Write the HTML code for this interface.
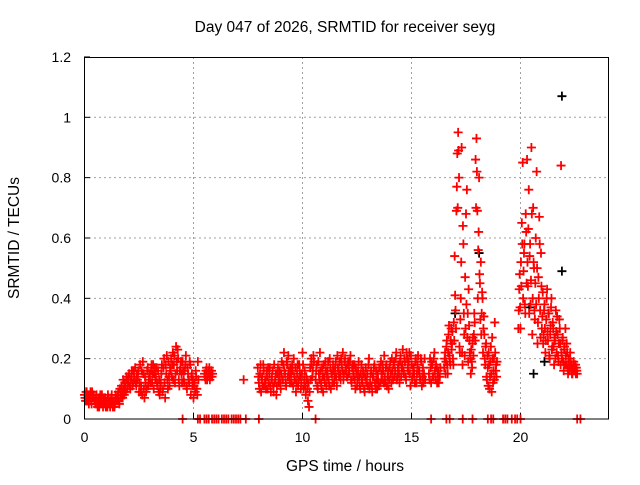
<!DOCTYPE html>
<html><head><meta charset="utf-8"><style>
body{margin:0;background:#fff;font-family:"Liberation Sans",sans-serif}
svg text{font-family:"Liberation Sans",sans-serif;font-size:14px;fill:#000}
svg text.big{font-size:15.5px}
</style></head><body>
<svg id="c" width="640" height="480" xmlns="http://www.w3.org/2000/svg">
<text class="big" x="345" y="32" text-anchor="middle">Day 047 of 2026, SRMTID for receiver seyg</text>
<text class="big" x="345" y="471" text-anchor="middle">GPS time / hours</text>
<text class="big" transform="translate(19,238) rotate(-90)" text-anchor="middle">SRMTID / TECUs</text>
<g id="grid"></g><g id="ticks"></g><g id="black"></g><g id="red"></g>
<rect x="84.5" y="57.5" width="524" height="361.5" fill="none" stroke="#000" stroke-width="1"/>
</svg>
<script>
const xTicks=[0,5,10,15,20];
const yTicks=[0,0.2,0.4,0.6,0.8,1,1.2];
const segments=[
[0,0.05,[.08,.06,.09,.07,.05,.08,.06,.09,.07,.06,.05,.08,.04,.07,.06,.05,.08,.04,.06,.07,.05,.04,.07,.06,.05,.08,.04,.06,.05,.07,.06,.09,.05,.08,.11,.07,.10,.12,.09,.13,.12,.15,.10,.14,.11,.16,.13,.12,.15,.14,.09,.18,.11,.08,.15,.07,.12,.10,.17,.13,.14,.16,.12,.18,.15,.13,.17,.11,.09,.08,.12,.18,.10,.20,.07,.15,.13,.19,.11,.16,.14,.22,.18,.12,.24,.16,.20,.11,.17,.15,.19,.13,.16,.21,.10,.15,.12,.18,.14,.11,.07,.12,.16,.10,.19]],
[5.5,0.05,[.15,.13,.17,.14,.16,.13,.15,.14]],
[7.3,0.05,[.13]],
[7.95,0.05,[.17,.12,.15,.09,.14,.18,.11,.13,.16,.10,.12,.17,.09,.14,.11,.18,.13,.08,.15,.12,.16,.10,.19,.13,.22,.15,.11,.18,.21,.14,.17,.12,.16,.20,.13,.09,.15,.11,.18,.14,.12,.22,.10,.16,.08,.13,.06,.04,.17,.20,.14,.21]],
[10.6,0.05,[.13,.18,.10,.15,.22,.12,.17,.09,.14,.19,.11,.16,.13,.20,.10,.15,.18,.12,.17,.14,.21,.16,.19,.13,.18,.22,.15,.20,.17,.14,.19,.16,.21,.12,.18,.15,.13,.17,.11,.16,.14,.10,.18,.12,.15,.09,.17,.13,.11,.20,.12,.16,.09,.14,.18,.10,.13,.15,.11,.17,.19,.13,.16,.21,.12,.18,.14,.10,.17,.15,.20,.13,.19,.16,.22,.14,.18,.12,.21,.17,.23,.15,.19,.13,.20,.16,.22,.11,.18,.14,.17,.12,.20,.15,.21,.16,.13,.19,.14,.12,.20]],
[15.8,0.05,[.15,.20,.12,.18,.14,.22,.13,.17,.15,.12,.14]],
[16.5,0.04,[.17,.22,.19,.26,.15,.28,.21,.18,.30,.25,.20,.32,.54,.36,.69,.88,.95,.80,.22,.40,.90,.18,.58,.28,.47,.68,.76,.35,.43,.26,.20,.23,.17,.27,.28,.32,.86,.93,.69,.56,.80,.45,.52,.35,.40,.30,.28,.18,.25,.13,.17,.22,.10,.19,.15,.27,.12,.20,.32,.16,.14]],
[19.9,0.04,[.30,.43,.37,.52,.65,.85,.49,.58,.35,.62,.86,.44,.76,.54,.38,.90,.28,.70,.50,.33,.60,.82,.25,.47,.67,.36,.55,.30,.42,.28,.38,.22,.33,.43,.26,.35,.20,.31,.40,.24,.30,.18,.26,.36,.22,.28,.19,.33,.25,.84,.20,.27,.16,.24,.30,.18,.22,.15,.20,.17,.19,.16,.15,.18,.16,.17,.15,.16]],
[0.025,0.05,[.07,.09,.06,.08,.07,.09,.05,.07,.08,.06,.07,.05,.06,.04,.08,.06,.05,.07,.05,.04,.06,.08,.05,.04,.07,.05,.06,.04,.08,.06,.08,.06,.10,.07,.09,.13,.08,.11,.14,.10,.14,.11,.13,.16,.12,.14,.17,.11,.13,.16,.12,.09,.16,.19,.10,.14,.09,.16,.11,.15,.12,.18,.15,.10,.17,.14,.12,.16,.13,.10,.15,.09,.17,.12,.18,.21,.10,.14,.17,.20,.18,.13,.21,.15,.19,.23,.13,.16,.19,.12,.16,.12,.18,.11,.17,.13,.19,.08,.15,.13,.11,.09,.14,.08,.13]],
[5.525,0.05,[.14,.16,.13,.15,.17,.14,.16,.15]],
[7.975,0.05,[.14,.10,.18,.13,.11,.16,.12,.10,.14,.17,.15,.11,.13,.16,.09,.12,.15,.11,.17,.14,.12,.15,.13,.18,.16,.12,.19,.14,.16,.12,.15,.18,.11,.14,.17,.12,.18,.13,.16,.10,.15,.18,.13,.11,.14,.10,.12,.09,.13,.18,.16,.19]],
[10.625,0.05,[.16,.11,.19,.13,.16,.10,.14,.18,.12,.16,.14,.19,.11,.17,.15,.12,.16,.14,.19,.11,.17,.14,.15,.20,.16,.13,.19,.16,.14,.18,.15,.19,.13,.17,.14,.18,.10,.15,.13,.19,.11,.15,.13,.16,.10,.14,.12,.15,.18,.10,.15,.11,.14,.17,.12,.16,.10,.13,.17,.12,.15,.18,.12,.14,.17,.11,.16,.13,.19,.12,.16,.18,.14,.20,.13,.17,.15,.19,.14,.18,.16,.20,.14,.22,.17,.19,.15,.21,.13,.17,.15,.19,.12,.18,.16,.14,.20,.11,.17,.15,.13]],
[15.825,0.05,[.13,.17,.19,.14,.20,.16,.18,.12,.16,.14,.17]],
[16.52,0.04,[.20,.15,.24,.18,.22,.31,.19,.26,.23,.29,.18,.26,.41,.30,.77,.70,.89,.24,.33,.52,.22,.64,.35,.21,.30,.38,.27,.19,.31,.22,.15,.19,.25,.21,.35,.26,.70,.82,.40,.62,.48,.33,.28,.42,.22,.34,.20,.24,.14,.21,.11,.18,.14,.24,.09,.20,.16,.13,.22,.18,.19]],
[19.92,0.04,[.36,.48,.30,.44,.58,.40,.55,.38,.68,.45,.52,.63,.35,.58,.46,.68,.40,.52,.36,.45,.38,.50,.32,.40,.58,.27,.44,.34,.25,.36,.30,.26,.40,.29,.35,.21,.28,.37,.23,.32,.24,.27,.20,.29,.34,.21,.25,.30,.18,.22,.26,.19,.23,.18,.21,.25,.17,.19,.16,.22,.18,.15,.17,.19,.16,.18,.17,.15]]
];
const blackTimes=[17.0,18.1,20.6,21.9,21.9,20.4,21.1];
const blackVals=[.35,.55,.15,1.07,.49,.37,.19];
const zeroTimes=[4.5,5.2,5.3,5.5,5.6,5.7,5.85,5.95,6.05,6.15,6.3,6.4,6.5,6.6,6.75,6.85,6.95,7.05,7.15,7.4,8.0,10.6,15.9,16.6,16.75,17.35,17.8,18.5,18.65,18.75,19.2,19.3,19.4,19.6,19.75,19.85,20.0,22.6,22.75];

const X=t=>84.5+t*21.8, Y=v=>419-v*301.7;
const NS="http://www.w3.org/2000/svg";
function mk(tag,attrs,parent){const e=document.createElementNS(NS,tag);for(const k in attrs)e.setAttribute(k,attrs[k]);parent.appendChild(e);return e;}
const grid=document.getElementById('grid'),ticks=document.getElementById('ticks');
xTicks.forEach(t=>{
  if(t>0){const g=mk('line',{x1:X(t),x2:X(t),y1:57,y2:419,stroke:'#a0a0a0','stroke-dasharray':'2,3'},grid);
  
  }
  mk('line',{x1:X(t),x2:X(t),y1:419,y2:413,stroke:'#000'},ticks);
  const l=mk('text',{x:X(t),y:442,'text-anchor':'middle'},ticks);l.textContent=t;
  
  
});
yTicks.forEach(v=>{
  if(v>0&&v<1.2){const g=mk('line',{x1:84,x2:608,y1:Y(v),y2:Y(v),stroke:'#a0a0a0','stroke-dasharray':'2,3'},grid);
  
  }
  mk('line',{x1:84,x2:90,y1:Y(v),y2:Y(v),stroke:'#000'},ticks);
  const l=mk('text',{x:71,y:Y(v)+5,'text-anchor':'end'},ticks);l.textContent=v;
  
  
});
function plus(t,v,col,g,name){
  const x=X(t),y=Y(v);
  const p=mk('path',{d:`M${x-4.5} ${y}H${x+4.5}M${x} ${y-4.5}V${y+4.5}`,stroke:col,'stroke-width':1.8,fill:'none'},g);
  
  
}
const red=document.getElementById('red'),black=document.getElementById('black');
blackTimes.forEach((t,i)=>plus(t,blackVals[i],'#000',black,'black-point'));
segments.forEach(s=>s[2].forEach((v,i)=>plus(s[0]+i*s[1],v,'#f00',red,'srmtid-point')));
zeroTimes.forEach(t=>plus(t,0,'#f00',red,'zero-point'));
</script>
</body></html>
